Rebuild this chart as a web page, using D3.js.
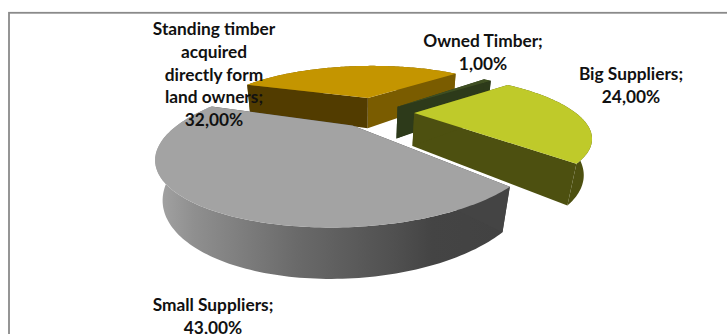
<!DOCTYPE html>
<html>
<head>
<meta charset="utf-8">
<script src="https://cdn.jsdelivr.net/npm/d3@7/dist/d3.min.js"></script>
<style>
html,body{margin:0;padding:0;background:#fff;overflow:hidden}
svg{display:block}
text{font-family:Lato,"Open Sans",sans-serif;font-weight:700;font-size:17.3px;fill:#111}
</style>
</head>
<body>
<svg id="c" width="727" height="334"></svg>
<script>
// Supply shares, in the order the pie runs clockwise
const categories = ["Big Suppliers", "Small Suppliers", "Standing timber acquired directly form land owners", "Owned Timber"];
const shares = [24, 43, 32, 1];
const shareLabels = ["24,00%", "43,00%", "32,00%", "1,00%"];
const labelLines = [["Big Suppliers;"], ["Small Suppliers;"], ["Standing timber", "acquired", "directly form", "land owners;"], ["Owned Timber;"]];
const labelAnchors = [[631, 80], [213, 311], [214, 35], [483, 47]];
// how far each slice is pulled out of the pie, in pie radii (right, towards viewer)
const explode = [[0.35, -0.225], [-0.015, -0.01], [0.05, -0.54], [0.25, -0.35]];
const topColors = ["#bfca2a", "#a3a3a3", "#c49500", "#3f4f22"];
const rimColors = ["#4d5010", "url(#grayWall)", "#7a5c00", "#2d3a1a"];
const startFaceColors = ["#4d5010", "#444444", "#523c00", "#2d3a1a"];
const endFaceColors = ["#4d5010", "#444444", "#7a5c00", "#2d3a1a"];

const svg = d3.select("#c");

// chart frame, open past the right and bottom of the page
svg.append("rect").attr("x", 9).attr("y", 12.8).attr("width", 740).attr("height", 340)
  .attr("fill", "#fff").attr("stroke", "#8a8a8a").attr("stroke-width", 1.8);

const grad = svg.append("defs").append("linearGradient").attr("id", "grayWall")
  .attr("gradientUnits", "userSpaceOnUse")
  .attr("x1", 160).attr("x2", 500).attr("y1", 0).attr("y2", 0);
[[0, "#a2a2a2"], [0.1, "#8f8f8f"], [0.4, "#6a6a6a"], [0.7, "#4f4f4f"], [0.8, "#444444"], [1, "#424242"]]
  .forEach(([o, c]) => grad.append("stop").attr("offset", o).attr("stop-color", c));

// 3D view of the pie: x to the right, y towards the viewer, z up
const view = {cx: 355, cy: 126, radius: 176, elev: 0.364, dist: 2.38, height: 0.222, shear: 0.2};
const sinE = Math.sin(view.elev), cosE = Math.cos(view.elev);
function project(x, y, z) {
  const s = view.dist / (view.dist - y * cosE - z * sinE);
  const s0 = view.dist / (view.dist - y * cosE);
  const py = view.radius * (y * sinE - z * cosE) * s;
  // the plane is skewed sideways by depth; vertical edges stay upright
  const skew = view.shear * view.radius * y * sinE * s0;
  return [view.cx + view.radius * x * s - skew, view.cy + py];
}

const startDeg = 49;
const pie = d3.pie().sort(null)
  .startAngle(startDeg * Math.PI / 180)
  .endAngle((startDeg + 360) * Math.PI / 180);
const arcs = pie(shares);
const line = d3.line();

function rim(a0, a1, off) {
  const n = Math.max(2, Math.ceil((a1 - a0) / 0.02));
  return d3.range(n + 1).map(i => {
    const a = a0 + (a1 - a0) * i / n;
    return [off[0] + Math.sin(a), off[1] - Math.cos(a)];
  });
}

function drawSlice(i) {
  const d = arcs[i];
  const off = explode[i];
  const edge = rim(d.startAngle, d.endAngle, off);
  const top = p => project(p[0], p[1], 0);
  const bot = p => project(p[0], p[1], -view.height);
  const g = svg.append("g");
  // outer wall of the rim
  g.append("path")
    .attr("d", line(edge.map(top).concat(edge.slice().reverse().map(bot))) + "Z")
    .attr("fill", rimColors[i]);
  // cut faces from the apex out to each end of the rim
  [[edge[edge.length - 1], endFaceColors[i]], [edge[0], startFaceColors[i]]].forEach(([e, color]) => {
    g.append("path")
      .attr("d", line([top(off), top(e), bot(e), bot(off)]) + "Z")
      .attr("fill", color);
  });
  // top face
  g.append("path")
    .attr("d", line([top(off)].concat(edge.map(top))) + "Z")
    .attr("fill", topColors[i]);
}

// painted from the back of the pie to the front
[2, 3, 0, 1].forEach(drawSlice);

// data labels
labelLines.forEach((lines, i) => {
  const t = svg.append("text").attr("text-anchor", "middle");
  lines.concat(shareLabels[i]).forEach((s, k) =>
    t.append("tspan").attr("x", labelAnchors[i][0]).attr("y", labelAnchors[i][1] + k * 22.8).text(s));
});
</script>
</body>
</html>
